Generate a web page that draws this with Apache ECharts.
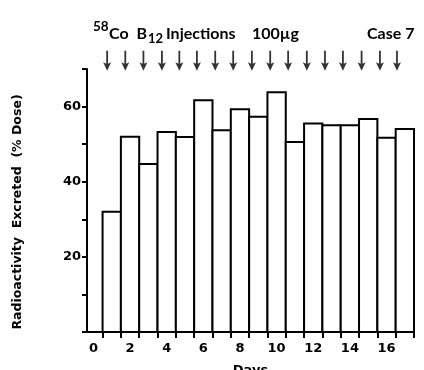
<!DOCTYPE html>
<html>
<head>
<meta charset="utf-8">
<script src="https://cdn.jsdelivr.net/npm/echarts@6/dist/echarts.min.js"></script>
<style>html,body{margin:0;padding:0;background:#fff}#c{width:424px;height:370px}</style>
</head>
<body>
<div id="c"></div>
<script>
const days = [1,2,3,4,5,6,7,8,9,10,11,12,13,14,15,16,17];
const excreted = [32,52,44.7,53.2,51.9,61.7,53.7,59.3,57.3,63.8,50.6,55.5,55,55,56.7,51.7,54];
const injectionDays = [0.75,1.74,2.73,3.74,4.69,5.65,6.65,7.63,8.65,9.65,10.63,11.65,12.64,13.62,14.64,15.64,16.57];
const xTickLabels = [0,2,4,6,8,10,12,14,16];
const yTickLabels = [20,40,60];

const FONT = 'DejaVu Sans';
const TFONT = 'Lato';
const chart = echarts.init(document.getElementById('c'), null, {renderer:'canvas'});
const arrowPath = 'path://M3.1,0 L4.9,0 L4.9,13 L8,11.5 L4,20 L0,11.5 L3.1,13 Z';
function t(left, top, text, size){
  return {type:'text',left:left,top:top,style:{text:text,font:'bold '+size+'px "'+TFONT+'"',fill:'#000'}};
}
chart.setOption({
  animation:false,
  backgroundColor:'#fff',
  grid:{left:87,right:10,top:69,bottom:38,containLabel:false,outerBoundsMode:'none'},
  xAxis:{type:'value',min:-0.35,max:17.5,
    axisLine:{show:true,onZero:false,lineStyle:{color:'#000',width:2}},
    axisTick:{show:true,customValues:days.map(d=>d-0.5).concat([17.5]),length:6,lineStyle:{color:'#000',width:2}},
    axisLabel:{customValues:xTickLabels,color:'#000',fontFamily:FONT,fontWeight:'bold',fontSize:13,margin:10},
    splitLine:{show:false},
    name:'Days',nameLocation:'middle',nameGap:32,nameTextStyle:{color:'#000',fontFamily:FONT,fontWeight:'bold',fontSize:13}
  },
  yAxis:{type:'value',min:0,max:70,interval:10,
    axisLine:{show:true,onZero:false,lineStyle:{color:'#000',width:2}},
    axisTick:{show:true,length:5,lineStyle:{color:'#000',width:2}},
    axisLabel:{color:'#000',fontFamily:FONT,fontWeight:'bold',fontSize:13,margin:6,
      formatter:v=>yTickLabels.includes(v)?String(v):''},
    splitLine:{show:false}
  },
  series:[
    {type:'custom',
     data:days.map((d,i)=>[d,excreted[i]]),
     renderItem:function(params,api){
       const d=api.value(0), v=api.value(1);
       const p0=api.coord([d-0.5,v]), p1=api.coord([d+0.5,0]);
       return {type:'rect',shape:{x:p0[0],y:p0[1],width:p1[0]-p0[0],height:p1[1]-p0[1]},
         style:{fill:'#fff',stroke:'#000',lineWidth:2}};
     }},
    {type:'scatter',clip:false,symbol:arrowPath,symbolSize:[8,20],
     itemStyle:{color:'#000'},
     data:injectionDays.map(d=>[d,72.2])}
  ],
  graphic:[
    {type:'text',x:18,y:212,rotation:Math.PI/2,style:{text:'Radioactivity  Excreted  (% Dose)',font:'bold 12.5px "'+FONT+'"',fill:'#000',align:'center',verticalAlign:'middle'}},
    t(93,20,'58',13.5),
    t(109,26,'Co  B',16),
    t(148,32,'12',13),
    t(166,26,'Injections',16),
    t(252,26,'100µg',16),
    t(367,26,'Case 7',16)
  ]
});
</script>
</body>
</html>
